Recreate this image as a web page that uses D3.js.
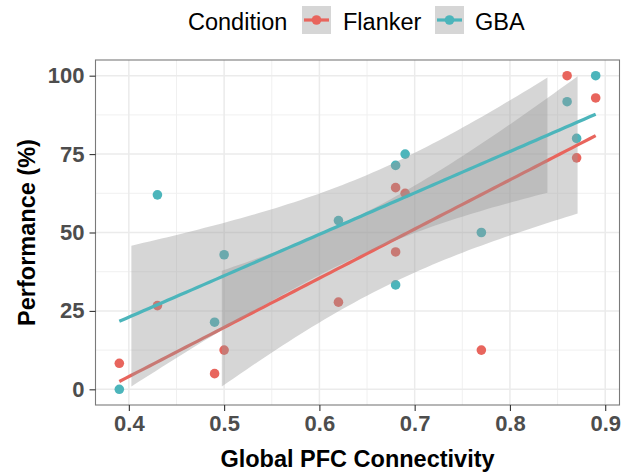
<!DOCTYPE html>
<html lang="en">
<head>
  <meta charset="UTF-8">
  <title>Performance vs Global PFC Connectivity</title>
  <script src="https://d3js.org/d3.v7.min.js"></script>
  <style>
    body { margin: 0; background: #fff; }
    text { font-family: "Liberation Sans", Arial, Helvetica, sans-serif; }
  </style>
</head>
<body>
  <script>
    // Values
    const conditions = ["Flanker", "GBA"];
    const connectivity = [0.39, 0.43, 0.49, 0.50, 0.62, 0.68, 0.69, 0.68, 0.77, 0.86, 0.89, 0.87];
    const flankerPerf = [8.3, 26.7, 5.0, 12.5, 27.8, 64.3, 62.5, 43.8, 12.5, 100, 92.9, 73.8];
    const gbaPerf = [0, 62.0, 21.4, 42.9, 53.8, 71.4, 75.0, 33.3, 50.0, 91.7, 100, 80.0];
    const xTicks = [0.4, 0.5, 0.6, 0.7, 0.8, 0.9];
    const yTicks = [0, 25, 50, 75, 100];

    const colors = { Flanker: "#E8655D", GBA: "#4CB5BB" };
    const perf = { Flanker: flankerPerf, GBA: gbaPerf };

    const width = 628, height = 473;
    const panel = { left: 95.5, right: 619.5, top: 60, bottom: 405 };

    const svg = d3.select("body").append("svg")
      .attr("width", width)
      .attr("height", height);

    // ggplot-style 5% expansion around the limits
    const x = d3.scaleLinear().domain([0.365, 0.915]).range([panel.left, panel.right]);
    const y = d3.scaleLinear().domain([-5, 105]).range([panel.bottom, panel.top]);

    // grid
    const grid = svg.append("g");
    const xMinor = d3.range(0.35, 0.951, 0.05).filter(v => !xTicks.some(t => Math.abs(t - v) < 1e-6));
    const yMinor = [-12.5, 12.5, 37.5, 62.5, 87.5];
    grid.selectAll(".xminor").data(xMinor.filter(v => x(v) > panel.left && x(v) < panel.right)).enter()
      .append("line").attr("x1", d => x(d)).attr("x2", d => x(d))
      .attr("y1", panel.top).attr("y2", panel.bottom)
      .style("stroke", "#F0F0F0").style("stroke-width", 1);
    grid.selectAll(".yminor").data(yMinor.filter(v => y(v) > panel.top && y(v) < panel.bottom)).enter()
      .append("line").attr("y1", d => y(d)).attr("y2", d => y(d))
      .attr("x1", panel.left).attr("x2", panel.right)
      .style("stroke", "#F0F0F0").style("stroke-width", 1);
    grid.selectAll(".xmajor").data(xTicks).enter()
      .append("line").attr("x1", d => x(d)).attr("x2", d => x(d))
      .attr("y1", panel.top).attr("y2", panel.bottom)
      .style("stroke", "#EBEBEB").style("stroke-width", 1.5);
    grid.selectAll(".ymajor").data(yTicks).enter()
      .append("line").attr("y1", d => y(d)).attr("y2", d => y(d))
      .attr("x1", panel.left).attr("x2", panel.right)
      .style("stroke", "#EBEBEB").style("stroke-width", 1.5);

    // points
    conditions.forEach(c => {
      svg.append("g").selectAll("circle")
        .data(connectivity.map((v, i) => [v, perf[c][i]]))
        .enter().append("circle")
        .attr("cx", d => x(d[0]))
        .attr("cy", d => y(d[1]))
        .attr("r", 4.8)
        .style("fill", colors[c]);
    });

    // linear fit with 95% CI (like geom_smooth(method = "lm")),
    // ribbon rows outside the 0-100 limits are dropped
    function lmFit(xs, ys) {
      const n = xs.length;
      const mx = d3.mean(xs), my = d3.mean(ys);
      const sxx = d3.sum(xs, v => (v - mx) ** 2);
      const sxy = d3.sum(xs.map((v, i) => (v - mx) * (ys[i] - my)));
      const b = sxy / sxx, a = my - b * mx;
      const sse = d3.sum(xs.map((v, i) => (ys[i] - a - b * v) ** 2));
      const s = Math.sqrt(sse / (n - 2));
      const tq = 2.228; // t(0.975, df = 10)
      const lo = d3.min(xs), hi = d3.max(xs);
      return d3.range(80).map(k => {
        const xv = lo + (hi - lo) * k / 79;
        const fit = a + b * xv;
        const se = s * Math.sqrt(1 / n + (xv - mx) ** 2 / sxx);
        return { x: xv, fit: fit, lower: fit - tq * se, upper: fit + tq * se };
      });
    }

    const area = d3.area().x(d => x(d.x)).y0(d => y(d.lower)).y1(d => y(d.upper));
    const line = d3.line().x(d => x(d.x)).y(d => y(d.fit));

    conditions.forEach(c => {
      const fit = lmFit(connectivity, perf[c]);
      const g = svg.append("g");
      g.append("path")
        .datum(fit)
        .attr("d", area.defined(d => d.lower >= 0 && d.upper <= 100))
        .style("fill", "#999999")
        .style("fill-opacity", 0.4);
      g.append("path")
        .datum(fit)
        .attr("d", line)
        .style("fill", "none")
        .style("stroke", colors[c])
        .style("stroke-width", 3.2);
    });

    // panel border
    svg.append("rect")
      .attr("x", panel.left).attr("y", panel.top)
      .attr("width", panel.right - panel.left)
      .attr("height", panel.bottom - panel.top)
      .style("fill", "none")
      .style("stroke", "#7A7A7A")
      .style("stroke-width", 1.1);

    // axes
    const xAxis = svg.append("g")
      .attr("transform", `translate(0,${panel.bottom})`)
      .call(d3.axisBottom(x).tickValues(xTicks).tickSize(6).tickPadding(4).tickFormat(d3.format(".1f")));
    const yAxis = svg.append("g")
      .attr("transform", `translate(${panel.left},0)`)
      .call(d3.axisLeft(y).tickValues(yTicks).tickSize(6).tickPadding(5));
    [xAxis, yAxis].forEach(ax => {
      ax.select(".domain").remove();
      ax.selectAll(".tick line").style("stroke", "#333").style("stroke-width", 1.1);
      ax.selectAll(".tick text")
        .style("font-family", "'Liberation Sans', Arial, sans-serif")
        .style("font-size", "22px")
        .style("font-weight", "bold")
        .style("fill", "#4D4D4D");
    });

    // axis titles
    svg.append("text")
      .attr("x", (panel.left + panel.right) / 2)
      .attr("y", 467)
      .attr("text-anchor", "middle")
      .style("font-size", "23.5px")
      .style("font-weight", "bold")
      .text("Global PFC Connectivity");
    svg.append("text")
      .attr("transform", `translate(35,${(panel.top + panel.bottom) / 2}) rotate(-90)`)
      .attr("text-anchor", "middle")
      .style("font-size", "23.5px")
      .style("font-weight", "bold")
      .text("Performance (%)");

    // legend
    const legend = svg.append("g");
    legend.append("text")
      .attr("x", 188).attr("y", 30)
      .style("font-size", "23.5px")
      .text("Condition");
    const keyX = [302, 435], labelX = [343, 475];
    conditions.forEach((c, i) => {
      const k = legend.append("g").attr("transform", `translate(${keyX[i]},6)`);
      k.append("rect").attr("width", 29).attr("height", 28)
        .style("fill", "#999999").style("fill-opacity", 0.4);
      k.append("line").attr("x1", 2).attr("x2", 27).attr("y1", 14).attr("y2", 14)
        .style("stroke", colors[c]).style("stroke-width", 3.2);
      k.append("circle").attr("cx", 14.5).attr("cy", 14).attr("r", 4.8)
        .style("fill", colors[c]);
      legend.append("text")
        .attr("x", labelX[i]).attr("y", 30)
        .style("font-size", "23.5px")
        .text(c);
    });
  </script>
</body>
</html>
